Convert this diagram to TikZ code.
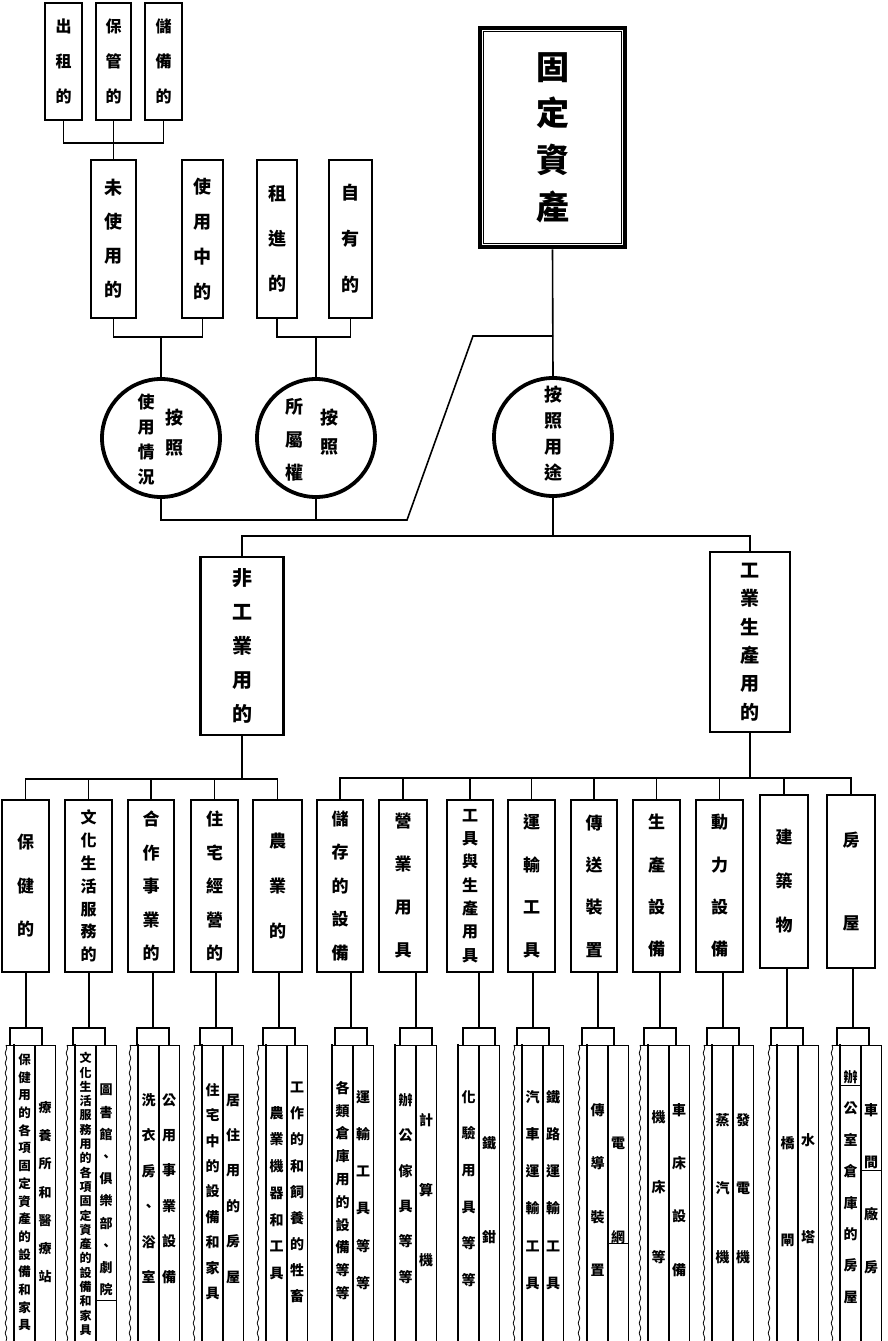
\documentclass[tikz,border=0pt]{standalone}
\usepackage{fontspec}
\newfontfamily\cjk{Noto Sans CJK TC}
\usetikzlibrary{decorations.pathmorphing}
\makeatletter
\newcommand\vt[1]{%
  \gdef\vt@out{}\gdef\vt@sep{}%
  \@tfor\vt@c:=#1\do{%
    \expandafter\g@addto@macro\expandafter\vt@out\expandafter{\vt@sep}%
    \expandafter\g@addto@macro\expandafter\vt@out\expandafter{\vt@c}%
    \gdef\vt@sep{\\}}%
  \vt@out}
\makeatother
\newcommand\fs[2]{\cjk\bfseries\fontsize{#1}{#2}\selectfont}
\begin{document}
\begin{tikzpicture}[x=1pt,y=-1pt,
  conn/.style={line width=1.6pt},
  box/.style={draw, line width=2.6pt, fill=white, inner sep=0pt, align=center},
  circ/.style={draw, circle, line width=3.8pt, minimum size=118pt, inner sep=0pt, fill=white},
  lt/.style={inner sep=0pt, align=center},
  colthin/.style={line width=0.9pt},
  colthick/.style={line width=2.4pt},
  wavy/.style={line width=0.8pt, decorate, decoration={snake, amplitude=0.8pt, segment length=10pt}}]
\fill[white] (0,0) rectangle (887,1341);
\useasboundingbox (0,0) rectangle (887,1341);

% ---- top row
\node[box, minimum width=37pt, minimum height=117pt, font={\fs{16}{35}}] (tA) at (63.5,61.5) {\vt{出租的}};
\node[box, minimum width=35pt, minimum height=117pt, font={\fs{16}{35}}] (tB) at (113.5,61.5) {\vt{保管的}};
\node[box, minimum width=37pt, minimum height=117pt, font={\fs{16}{35}}] (tC) at (163.5,61.5) {\vt{儲備的}};
% ---- second row
\node[box, minimum width=45pt, minimum height=158pt, font={\fs{18}{34}}] (m1) at (113.5,239) {\vt{未使用的}};
\node[box, minimum width=41pt, minimum height=158pt, font={\fs{18}{35}}] (m2) at (202.5,239) {\vt{使用中的}};
\node[box, minimum width=40pt, minimum height=158pt, font={\fs{18}{45}}] (m3) at (277,239) {\vt{租進的}};
\node[box, minimum width=43pt, minimum height=158pt, font={\fs{18}{46}}] (m4) at (350.5,239) {\vt{自有的}};
% ---- main box
\node[draw, line width=4.5pt, fill=white, inner sep=0pt, align=center, minimum width=145pt, minimum height=219pt, font={\fs{33}{46.7}}] (main) at (552.5,137.5) {\vt{固定資產}};
\draw[line width=1pt] ([shift={(6,6)}]main.north west) rectangle ([shift={(-6,-6)}]main.south east);
% ---- circles
\node[circ] (c1) at (161,438) {};
\node[circ] (c2) at (316,438) {};
\node[circ] (c3) at (553,437) {};
\node[lt, font={\fs{18}{30}}] (c1a) at (174,433) {\vt{按照}};
\node[lt, font={\fs{17}{25}}] (c1b) at (146,440) {\vt{使用情況}};
\node[lt, font={\fs{18}{29}}] (c2a) at (329,432) {\vt{按照}};
\node[lt, font={\fs{18}{33}}] (c2b) at (294,440) {\vt{所屬權}};
\node[lt, font={\fs{18}{26}}] (c3a) at (553,434) {\vt{按照用途}};
% ---- level 2
\node[box, minimum width=83pt, minimum height=178pt, font={\fs{20}{34}}] (n1) at (242,646) {\vt{非工業用的}};
\node[box, minimum width=80pt, minimum height=180pt, font={\fs{19}{28.4}}] (n2) at (750,642) {\vt{工業生產用的}};
% ---- level 3
\node[box, minimum width=47pt, minimum height=172pt, font={\fs{17}{43.5}}] (b1) at (25.5,886) {\vt{保健的}};
\node[box, minimum width=47pt, minimum height=172pt, font={\fs{16}{22.8}}] (b2) at (88.5,886) {\vt{文化生活服務的}};
\node[box, minimum width=46pt, minimum height=172pt, font={\fs{17}{33.5}}] (b3) at (151,886) {\vt{合作事業的}};
\node[box, minimum width=47pt, minimum height=172pt, font={\fs{17}{33.5}}] (b4) at (214.5,886) {\vt{住宅經營的}};
\node[box, minimum width=49pt, minimum height=172pt, font={\fs{17}{45}}] (b5) at (277.5,886) {\vt{農業的}};
\node[box, minimum width=46pt, minimum height=172pt, font={\fs{17}{33.5}}] (b6) at (340,886) {\vt{儲存的設備}};
\node[box, minimum width=48pt, minimum height=172pt, font={\fs{17}{43}}] (b7) at (403,886) {\vt{營業用具}};
\node[box, minimum width=46pt, minimum height=172pt, font={\fs{16}{23.3}}] (b8) at (470,886) {\vt{工具與生產用具}};
\node[box, minimum width=47pt, minimum height=172pt, font={\fs{17}{42.7}}] (b9) at (531.5,886) {\vt{運輸工具}};
\node[box, minimum width=46pt, minimum height=172pt, font={\fs{17}{42.3}}] (b10) at (594,886) {\vt{傳送裝置}};
\node[box, minimum width=47pt, minimum height=172pt, font={\fs{17}{42.3}}] (b11) at (656.5,886) {\vt{生產設備}};
\node[box, minimum width=47pt, minimum height=172pt, font={\fs{17}{42.3}}] (b12) at (719.5,886) {\vt{動力設備}};
\node[box, minimum width=48pt, minimum height=173pt, font={\fs{17}{44}}] (b13) at (784,881.5) {\vt{建築物}};
\node[box, minimum width=48pt, minimum height=173pt, font={\fs{17}{83}}] (b14) at (851,881.5) {\vt{房屋}};

% ---- connectors, upper part
\coordinate (jt) at (113.5,143);
\draw[conn] (tA.south) |- (jt) -| (tC.south);
\draw[conn] (tB.south) -- (m1.north);
\coordinate (j1) at (161,337);
\draw[conn] (m1.south) |- (j1) -| (m2.south);
\draw[conn] (j1) -- (c1.north);
\coordinate (j2) at (316,337);
\draw[conn] (m3.south) |- (j2) -| (m4.south);
\draw[conn] (j2) -- (c2.north);
\coordinate (k1) at (407,520);
\coordinate (k2) at (473,336);
\coordinate (k3) at (553,336);
\draw[conn] (c1.south) |- (k1) -- (k2) -- (k3);
\draw[conn] (c2.south) -- (c2.south |- k1);
\draw[conn] (main.south) -- (c3.north);
\coordinate (j4) at (553,536);
\draw[conn] (c3.south) -- (j4);
\draw[conn] (n1.north) |- (j4) -| (n2.north);
% ---- connectors to level 3
\coordinate (j5) at (242,779);
\draw[conn] (n1.south) -- (j5);
\draw[conn] (b1.north) |- (j5) -| (b5.north);
\foreach \k in {2,3,4} \draw[conn] (b\k.north) -- (b\k.north |- j5);
\coordinate (j6) at (750,778);
\draw[conn] (n2.south) -- (j6);
\draw[conn] (b6.north) |- (j6) -| (b14.north);
\foreach \k in {7,8,9,10,11,12,13} \draw[conn] (b\k.north) -- (b\k.north |- j6);

% ---- leaf columns
\foreach \i/\c/\L/\w in {1/26/14/1, 2/89/75/1, 3/153/138/1, 4/216/202/1, 5/279/266/1,
  6/351/332/0, 7/416/395/0, 8/479/458/0, 9/533/522/1, 10/598/587/1, 11/660/648/1,
  12/723/712/1, 13/787/777/1, 14/853/840/1} {
  \coordinate (g\i) at (\c,1028);
  \draw[conn] (b\i.south -| g\i) -- (g\i);
  \draw[conn] (g\i) ++(-16,17) -- ++(0,-17) -- ++(32,0) -- ++(0,17);
  \draw[colthin] (\L,1045) -- (\L+41,1045) -- (\L+41,1345);
  \draw[colthick] (\L,1044) -- (\L,1345);
  \draw[line width=2pt] (\L+21,1045) -- (\L+21,1345);
  \ifnum\w=1
    \draw[colthin] (\L-8,1045) -- (\L,1045);
    \draw[wavy] (\L-8,1045) -- (\L-8,1345);
  \fi
}
\draw[colthin] (96,1300) -- (116,1300);
\draw[colthin] (608,1243) -- (628,1243);
\draw[colthin] (840,1085) -- (861,1085);
\draw[colthin] (861,1170) -- (881,1170);

% ---- leaf texts
\node[lt, font={\fs{12.5}{17.7}}] (t1a) at (24.5,1192.5) {\vt{保健用的各項固定資產的設備和家具}};
\node[lt, font={\fs{13}{28.3}}] (t1b) at (45,1192) {\vt{療養所和醫療站}};
\node[lt, font={\fs{12}{14.3}}] (t2a) at (85.5,1194) {\vt{文化生活服務用的各項固定資產的設備和家具}};
\node[lt, font={\fs{13}{22.2}}] (t2b) at (106,1190) {\vt{圖書館、俱樂部、劇院}};
\node[lt, font={\fs{14}{35.4}}] (t3a) at (148.5,1188.5) {\vt{洗衣房、浴室}};
\node[lt, font={\fs{14}{35.4}}] (t3b) at (169,1188.5) {\vt{公用事業設備}};
\node[lt, font={\fs{14}{25.4}}] (t4a) at (212.5,1191.5) {\vt{住宅中的設備和家具}};
\node[lt, font={\fs{14}{35.4}}] (t4b) at (233,1188.5) {\vt{居住用的房屋}};
\node[lt, font={\fs{14}{26.7}}] (t5a) at (276.5,1193) {\vt{農業機器和工具}};
\node[lt, font={\fs{14}{26.1}}] (t5b) at (297,1192.5) {\vt{工作的和飼養的牲畜}};
\node[lt, font={\fs{14}{22.8}}] (t6a) at (342.5,1190.5) {\vt{各類倉庫用的設備等等}};
\node[lt, font={\fs{14}{37.2}}] (t6b) at (363,1190) {\vt{運輸工具等等}};
\node[lt, font={\fs{14}{35.4}}] (t7a) at (405.5,1188.5) {\vt{辦公傢具等等}};
\node[lt, font={\fs{14}{70}}] (t7b) at (426,1190) {\vt{計算機}};
\node[lt, font={\fs{14}{36.6}}] (t8a) at (468.5,1188.5) {\vt{化驗用具等等}};
\node[lt, font={\fs{14}{94}}] (t8b) at (489,1190) {\vt{鐵鉗}};
\node[lt, font={\fs{14}{37.2}}] (t9a) at (532.5,1190) {\vt{汽車運輸工具}};
\node[lt, font={\fs{14}{37.2}}] (t9b) at (553,1190) {\vt{鐵路運輸工具}};
\node[lt, font={\fs{14}{53.3}}] (t10a) at (597.5,1190) {\vt{傳導裝置}};
\node[lt, font={\fs{14}{94}}] (t10b) at (618,1190) {\vt{電網}};
\node[lt, font={\fs{14}{70}}] (t11a) at (658.5,1187) {\vt{機床等}};
\node[lt, font={\fs{14}{53.3}}] (t11b) at (679,1190) {\vt{車床設備}};
\node[lt, font={\fs{14}{68.5}}] (t12a) at (722.5,1188.5) {\vt{蒸汽機}};
\node[lt, font={\fs{14}{68.5}}] (t12b) at (743,1188.5) {\vt{發電機}};
\node[lt, font={\fs{14}{97}}] (t13a) at (787.5,1191.5) {\vt{橋閘}};
\node[lt, font={\fs{14}{97}}] (t13b) at (808,1188.5) {\vt{水塔}};
\node[lt, font={\fs{14}{31.4}}] (t14a) at (850.5,1187) {\vt{辦公室倉庫的房屋}};
\node[lt, font={\fs{14}{52.3}}] (t14b) at (871,1188.5) {\vt{車間廠房}};
\end{tikzpicture}
\end{document}
